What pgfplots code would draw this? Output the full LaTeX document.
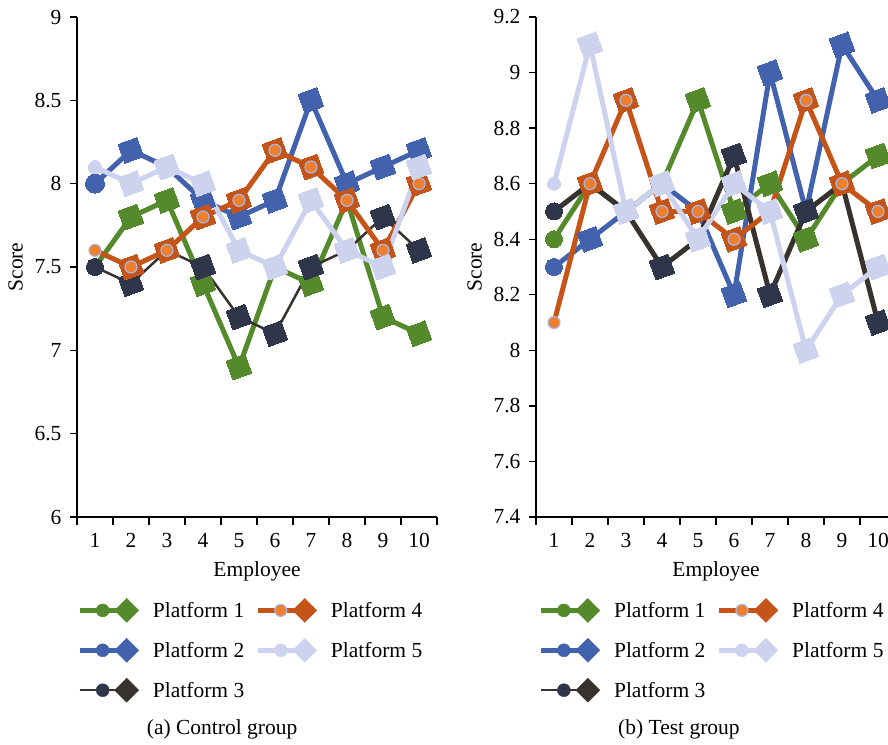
\documentclass[border=0pt]{standalone}
\usepackage{fontspec}
\setmainfont{Liberation Serif}
\usepackage{pgfplots}
\usepackage{pgfplotstable}
\pgfplotsset{compat=1.18}

\definecolor{cA}{HTML}{548A2B}
\definecolor{cB}{HTML}{4262AE}
\definecolor{cCm}{HTML}{2F3649}
\definecolor{cCl}{HTML}{38322F}
\definecolor{cD}{HTML}{C55419}
\definecolor{cDin}{HTML}{EE7F2D}
\definecolor{cDout}{HTML}{A8B8E6}
\definecolor{cE}{HTML}{CDD3EF}

\newcommand{\bigf}{\fontsize{21.5}{25}\selectfont}

\pgfplotstableread{
x p1 p2 p3 p4 p5
1 7.5 8.0 7.5 7.6 8.1
2 7.8 8.2 7.4 7.5 8.0
3 7.9 8.1 7.6 7.6 8.1
4 7.4 7.9 7.5 7.8 8.0
5 6.9 7.8 7.2 7.9 7.6
6 7.5 7.9 7.1 8.2 7.5
7 7.4 8.5 7.5 8.1 7.9
8 7.9 8.0 7.6 7.9 7.6
9 7.2 8.1 7.8 7.6 7.5
10 7.1 8.2 7.6 8.0 8.1
}\ctrl

\pgfplotstableread{
x p1 p2 p3 p4 p5
1 8.4 8.3 8.5 8.1 8.6
2 8.6 8.4 8.6 8.6 9.1
3 8.5 8.5 8.5 8.9 8.5
4 8.6 8.6 8.3 8.5 8.6
5 8.9 8.5 8.4 8.5 8.4
6 8.5 8.2 8.7 8.4 8.6
7 8.6 9.0 8.2 8.5 8.5
8 8.4 8.5 8.5 8.9 8.0
9 8.6 9.1 8.6 8.6 8.2
10 8.7 8.9 8.1 8.5 8.3
}\testg

\pgfplotsset{
  legimg/.style n args={4}{legend image code/.code={
    \draw[#1, line width=#2] (0pt,0pt) -- (47pt,0pt);
    \fill[#3] (23pt,0pt) circle (6.5pt);
    \fill[#4] (35pt,0pt) -- (47pt,12pt) -- (59pt,0pt) -- (47pt,-12pt) -- cycle;
    \path (70pt,0pt);
  }},
  legimgD/.style={legend image code/.code={
    \draw[cD, line width=5pt] (0pt,0pt) -- (47pt,0pt);
    \filldraw[fill=cDin, draw=cDout, line width=1.2pt] (23pt,0pt) circle (6pt);
    \fill[cD] (35pt,0pt) -- (47pt,12pt) -- (59pt,0pt) -- (47pt,-12pt) -- cycle;
    \path (70pt,0pt);
  }},
  myaxis/.style={
    scale only axis, width=360pt, height=500pt,
    xmin=0.5, xmax=10.5, clip=false,
    axis x line=bottom, axis y line=left,
    axis line style={-, line width=1.3pt, black},
    tick align=outside,
    xtick={1,...,10},
    minor xtick={0.5,1.5,...,10.5},
    major x tick style={draw=none},
    minor tick length=8pt,
    major tick length=7pt,
    every tick/.style={black, line width=1.3pt},
    every minor tick/.style={black, line width=1.3pt},
    tick label style={font=\bigf},
    label style={font=\bigf},
    xticklabel style={yshift=-6pt},
    yticklabel style={xshift=-5pt, /pgf/number format/fixed, /pgf/number format/precision=1},
    /pgf/number format/assume math mode=true,
    xlabel={Employee}, ylabel={Score},
    xlabel style={yshift=-7pt},
    ylabel style={yshift=5pt},
    legend cell align=left,
    legend columns=2,
    legend style={draw=none, fill=none, inner sep=0pt, anchor=north west,
      row sep=15.5pt, font=\bigf,
      nodes={inner xsep=3pt, inner ysep=2pt},
      /tikz/every even column/.append style={column sep=8pt}},
  },
}

% table, column, colour, line width, first-circle radius
\newcommand{\series}[5]{%
  \addplot[#3, line width=#4, mark=square*, mark size=10pt,
    mark options={rotate=20, line width=0pt, fill=#3},
    mark indices={2,3,4,5,6,7,8,9,10}, forget plot] table[x=x,y=#2]{#1};
  \addplot[only marks, mark=*, mark size=#5, #3,
    mark options={line width=0pt, fill=#3},
    mark indices={1}, forget plot] table[x=x,y=#2]{#1};
}
\newcommand{\seriesC}[3]{%
  \addplot[cCl, line width=#3, mark=square*, mark size=10pt,
    mark options={rotate=20, line width=0pt, fill=cCm, draw=cCm},
    mark indices={2,3,4,5,6,7,8,9,10}, forget plot] table[x=x,y=#2]{#1};
  \addplot[only marks, mark=*, mark size=8.5pt,
    mark options={line width=0pt, fill=cCm, draw=cCm},
    mark indices={1}, forget plot] table[x=x,y=#2]{#1};
}
\newcommand{\seriesD}[2]{%
  \addplot[cD, line width=5pt, mark=square*, mark size=10pt,
    mark options={rotate=20, line width=0pt, fill=cD},
    mark indices={2,3,4,5,6,7,8,9,10}, forget plot] table[x=x,y=#2]{#1};
  \addplot[only marks, mark=*, mark size=6pt,
    mark options={line width=1.2pt, fill=cDin, draw=cDout},
    forget plot] table[x=x,y=#2]{#1};
}
\newcommand{\legs}[1]{%
  \addlegendimage{legimg={cA}{5pt}{cA}{cA}}
  \addlegendimage{legimgD}
  \addlegendimage{legimg={cB}{5pt}{cB}{cB}}
  \addlegendimage{legimg={cE}{5pt}{cE}{cE}}
  \addlegendimage{legimg={cCl}{2.5pt}{cCm}{cCl}}
  \addlegendentry{Platform 1}
  \addlegendentry{Platform 4}
  \addlegendentry{Platform 2}
  \addlegendentry{Platform 5}
  \addlegendentry{Platform 3}
}

\begin{document}
\begin{tikzpicture}
\begin{axis}[myaxis, at={(77pt,-517pt)}, anchor=south west,
  ymin=6, ymax=9, ytick={6,6.5,...,9},
  legend style={at={(0.0,-0.162)}}]
\legs{}
\series{\ctrl}{p1}{cA}{5pt}{8.5pt}
\series{\ctrl}{p2}{cB}{5pt}{9.5pt}
\seriesC{\ctrl}{p3}{2.5pt}
\seriesD{\ctrl}{p4}
\series{\ctrl}{p5}{cE}{5pt}{6.5pt}
\node[font=\bigf] at (rel axis cs:0.403,-0.424) {(a) Control group};
\end{axis}
\begin{axis}[myaxis, at={(536pt,-517pt)}, anchor=south west,
  ymin=7.4, ymax=9.2, ytick={7.4,7.6,...,9.2},
  legend style={at={(0.006,-0.162)}}]
\legs{}
\series{\testg}{p1}{cA}{5pt}{8.5pt}
\series{\testg}{p2}{cB}{5pt}{8.5pt}
\seriesC{\testg}{p3}{5pt}
\seriesD{\testg}{p4}
\series{\testg}{p5}{cE}{5pt}{6.5pt}
\node[font=\bigf] at (rel axis cs:0.397,-0.424) {(b) Test group};
\end{axis}
\pgfresetboundingbox
\path[use as bounding box] (0pt,0pt) rectangle (888pt,-744pt);
\end{tikzpicture}
\end{document}
